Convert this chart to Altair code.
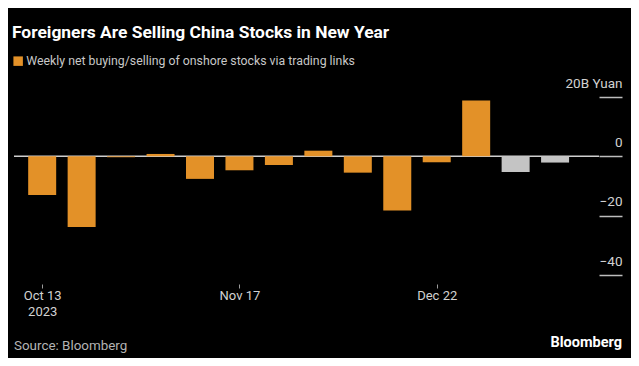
import altair as alt
import pandas as pd

weeks = ["2023-10-13", "2023-10-20", "2023-10-27", "2023-11-03", "2023-11-10",
         "2023-11-17", "2023-11-24", "2023-12-01", "2023-12-08", "2023-12-15",
         "2023-12-22", "2023-12-29", "2024-01-05", "2024-01-12"]
flows = [-13.0, -23.8, -0.3, 0.8, -7.6, -4.7, -2.9, 1.9, -5.5, -18.3, -2.0, 18.8, -5.3, -2.1]
series_names = ["Weekly net buying/selling of onshore stocks via trading links", "2024"]
series = [series_names[0]] * 12 + [series_names[1]] * 2
y_ticks = [20, 0, -20, -40]
x_ticks = ["2023-10-13", "2023-11-17", "2023-12-22"]
x_range = ["2023-10-08T00:00:00", "2024-01-19T19:00:00"]

df = pd.DataFrame({"week": weeks, "flow": flows, "series": series})
one = pd.DataFrame({"k": [0]})


def ms(s):
    return int(pd.Timestamp(s, tz="UTC").value // 10**6)


FONT = "Roboto"
ORANGE = "#E39128"
GRAY = "#C4C4C4"

x_scale = alt.Scale(type="utc", domain=[ms(v) for v in x_range], nice=False, padding=0)
y_scale = alt.Scale(domain=[-40, 20], nice=False, zero=False)

zero = alt.Chart(one).mark_rule(color="#CFCFCF", strokeWidth=1.5).encode(
    y=alt.datum(0, scale=y_scale)
)

bars = alt.Chart(df).mark_bar(size=28).encode(
    x=alt.X("week:T", scale=x_scale, title=None,
            axis=alt.Axis(values=[ms(v) for v in x_ticks],
                          labelExpr="utcmonth(datum.value) == 9 ? [utcFormat(datum.value, '%b %-d'), utcFormat(datum.value, '%Y')] : utcFormat(datum.value, '%b %-d')",
                          domain=False, grid=False, offset=9, tickSize=4,
                          tickColor="#9A9A9A", labelPadding=1, labelLineHeight=16,
                          labelFont=FONT, labelFontSize=13, labelColor="#D2D2D2",
                          labelBaseline="top")),
    y=alt.Y("flow:Q", scale=y_scale, title=None,
            axis=alt.Axis(orient="right", values=y_ticks, domain=False, grid=False,
                          tickSize=23, tickColor="#BDBDBD", tickWidth=1.5,
                          labelPadding=0, labelAlign="right", labelBaseline="alphabetic",
                          labelOffset=-10, labelFont=FONT, labelFontSize=13.5,
                          labelColor="#D2D2D2",
                          labelExpr="datum.value == 20 ? '20B Yuan' : datum.label")),
    color=alt.Color("series:N",
                    scale=alt.Scale(domain=series_names, range=[ORANGE, GRAY]),
                    legend=alt.Legend(title=None, values=[series_names[0]],
                                      orient="none", legendX=-2, legendY=-42,
                                      symbolType="square", symbolSize=90,
                                      symbolStrokeWidth=0, labelFont=FONT,
                                      labelFontSize=12.3, labelColor="#C8C8C8",
                                      labelOffset=2, labelLimit=500)),
)

source = alt.Chart(one).mark_text(align="left", baseline="alphabetic", font=FONT,
                                  fontSize=13.4, color="#B4B4B4").encode(
    x=alt.value(0), y=alt.value(253), text=alt.value("Source: Bloomberg"))
brand = alt.Chart(one).mark_text(align="right", baseline="alphabetic", font=FONT,
                                 fontSize=14.5, fontWeight="bold", color="#FFFFFF").encode(
    x=alt.value(608), y=alt.value(250), text=alt.value("Bloomberg"))

chart = alt.layer(zero, bars, source, brand).properties(
    width=585, height=178,
    autosize=alt.AutoSizeParams(type="none"),
    padding={"left": 6, "top": 89, "right": 32, "bottom": 83},
    title=alt.TitleParams("Foreigners Are Selling China Stocks in New Year",
                          anchor="start", frame="group", offset=0, baseline="alphabetic",
                          font=FONT, fontSize=17.4, fontWeight="bold", color="#FFFFFF",
                          dx=-2),
).configure(background="#000000").configure_view(stroke=None)

chart.save("out.html", embed_options={"renderer": "svg", "actions": False})
